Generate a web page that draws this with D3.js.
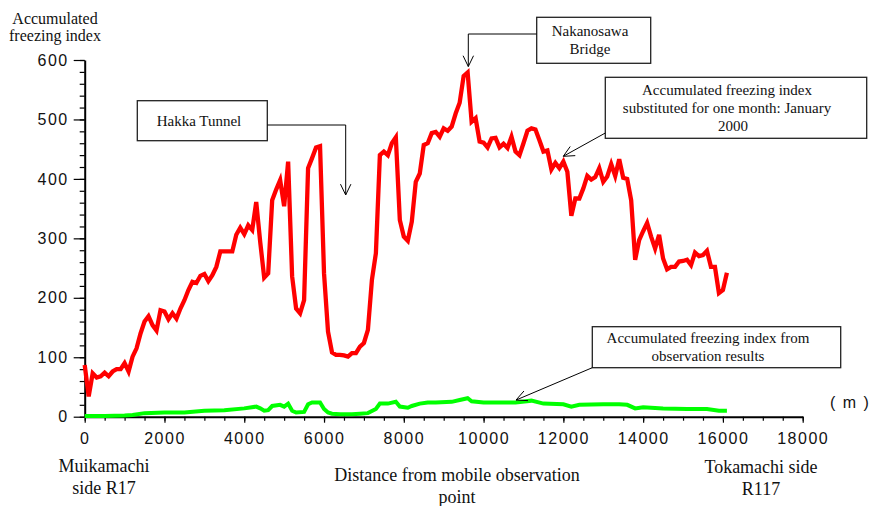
<!DOCTYPE html>
<html lang="en">
<head>
  <meta charset="UTF-8">
  <title>Accumulated freezing index</title>
  <script src="https://d3js.org/d3.v7.min.js"></script>
  <style>
    body { margin: 0; background: #fff; }
    .tick text { font-family: "Liberation Sans", Arial, sans-serif; font-size: 16px; letter-spacing: 1.5px; fill: #111; }
    .serif { font-family: "Liberation Serif", "Times New Roman", serif; fill: #111; }
  </style>
</head>
<body>
  <svg id="chart" width="877" height="506"></svg>

  <script>
    // substituted (January 2000) index, read every 100 m
    const distances = d3.range(0, 16101, 100);
    const substitutedIndex = [
      87, 34, 73, 66, 68, 74, 68, 76, 80, 80,
      90, 76, 101, 115, 140, 160, 169, 154, 145, 179,
      177, 164, 174, 165, 182, 196, 213, 227, 225, 237,
      240, 228, 238, 252, 278, 278, 278, 278, 306, 318,
      307, 322, 314, 361, 294, 234, 241, 364, 382, 398,
      354, 429, 236, 182, 174, 196, 418, 435, 453, 455,
      241, 143, 108, 104, 104, 103, 101, 107, 107, 118,
      124, 146, 230, 275, 440, 446, 440, 460, 470, 331,
      303, 296, 328, 395, 409, 457, 460, 477, 479, 471,
      485, 481, 488, 510, 528, 573, 579, 496, 502, 463,
      461, 453, 468, 469, 453, 459, 452, 471, 446, 440,
      460, 481, 485, 483, 465, 446, 448, 416, 427, 418,
      429, 412, 338, 367, 367, 384, 405, 399, 403, 418,
      395, 404, 425, 405, 433, 402, 400, 364, 264, 297,
      312, 326, 303, 283, 306, 266, 248, 252, 252, 261,
      262, 264, 255, 276, 270, 272, 279, 252, 252, 208,
      213, 242
    ];

    // index from observation results
    const obsDistances = [
      0, 500, 1000, 1200, 1500, 2000, 2500, 3000, 3500, 4000,
      4300, 4400, 4500, 4600, 4700, 4900, 5000, 5100, 5200, 5300,
      5500, 5600, 5700, 5900, 6000, 6100, 6200, 6400, 6700, 6900,
      7100, 7300, 7400, 7600, 7800, 7900, 8100, 8200, 8400, 8600,
      8800, 9200, 9400, 9600, 9700, 10000, 10400, 10800, 11200, 11500,
      12000, 12200, 12400, 13000, 13400, 13600, 13800, 14000, 14500, 15100,
      15600, 15900, 16100
    ];
    const observedIndex = [
      1, 1, 2, 3, 6, 7, 7, 10, 11, 14,
      17, 14, 10, 11, 18, 20, 17, 22, 10, 7,
      8, 21, 24, 24, 13, 7, 5, 4, 4, 5,
      6, 13, 22, 22, 25, 17, 15, 18, 22, 24,
      24, 25, 28, 31, 26, 24, 24, 24, 27, 22,
      21, 17, 20, 21, 21, 20, 14, 16, 14, 13,
      13, 10, 10
    ];

    const xTicks = [0, 2000, 4000, 6000, 8000, 10000, 12000, 14000, 16000, 18000];
    const yTicks = [0, 100, 200, 300, 400, 500, 600];

    const svg = d3.select("#chart");
    svg.append("rect").attr("width", 877).attr("height", 506).attr("fill", "#fff");

    const x = d3.scaleLinear().domain([0, 18000]).range([84.7, 802.7]);
    const y = d3.scaleLinear().domain([0, 600]).range([416.7, 60]);

    // minor ticks
    svg.append("g")
      .attr("transform", `translate(0,${y(0)})`)
      .call(d3.axisBottom(x).tickValues(d3.range(0, 18001, 500)).tickSize(4).tickSizeOuter(0).tickFormat(""))
      .call(g => g.select(".domain").remove());
    svg.append("g")
      .attr("transform", `translate(${x(0)},0)`)
      .call(d3.axisLeft(y).tickValues(d3.range(0, 601, 20)).tickSize(5).tickSizeOuter(0).tickFormat(""))
      .call(g => g.select(".domain").remove());

    // major axes
    const xAxis = svg.append("g")
      .attr("transform", `translate(0,${y(0)})`)
      .call(d3.axisBottom(x).tickValues(xTicks).tickFormat(d3.format("d"))
        .tickSize(6).tickSizeOuter(0).tickPadding(10));
    const yAxis = svg.append("g")
      .attr("transform", `translate(${x(0)},0)`)
      .call(d3.axisLeft(y).tickValues(yTicks).tickFormat(d3.format("d"))
        .tickSize(11).tickSizeOuter(0).tickPadding(5));
    [xAxis, yAxis].forEach(a => {
      a.select(".domain").attr("stroke", "#000").attr("stroke-width", 2);
      a.attr("font-family", null).attr("font-size", null);
    });
    svg.selectAll(".tick line").attr("stroke", "#000").attr("stroke-width", 1.2);

    // series
    const line = d3.line().x(d => x(d[0])).y(d => y(d[1]));

    svg.append("path")
      .datum(d3.zip(obsDistances, observedIndex))
      .attr("fill", "none")
      .attr("stroke", "#00ff00")
      .attr("stroke-width", 4)
      .attr("d", line);

    svg.append("path")
      .datum(d3.zip(distances, substitutedIndex))
      .attr("fill", "none")
      .attr("stroke", "#ff0000")
      .attr("stroke-width", 4.3)
      .attr("d", line);

    // texts
    function label(lines, cx, y0, size, step) {
      const t = svg.append("text").attr("class", "serif").attr("font-size", size).attr("text-anchor", "middle");
      lines.forEach((s, i) => {
        const c = Array.isArray(s) ? s[1] : cx;
        t.append("tspan").attr("x", c).attr("y", y0 + i * step).text(Array.isArray(s) ? s[0] : s);
      });
      return t;
    }

    label(["Accumulated", "freezing index"], 55, 24, 16, 17);
    label(["Muikamachi", "side R17"], 104, 472, 18, 22);
    label(["Distance from mobile observation", "point"], 457, 481, 18, 22);
    label(["Tokamachi side", "R117"], 761, 473, 18, 22);

    // unit
    svg.append("text")
      .attr("x", 830).attr("y", 408)
      .attr("font-family", "'Liberation Sans', Arial, sans-serif")
      .attr("font-size", 16)
      .attr("letter-spacing", "1.5px")
      .attr("fill", "#111")
      .text("( m )");

    // callouts
    function box(x0, y0, w, h) {
      svg.append("rect").attr("x", x0).attr("y", y0).attr("width", w).attr("height", h)
        .attr("fill", "#fff").attr("stroke", "#222").attr("stroke-width", 1.3);
    }

    function arrow(pts) {
      svg.append("path").attr("d", d3.line()(pts))
        .attr("fill", "none").attr("stroke", "#000").attr("stroke-width", 1);
      const [a, b] = pts.slice(-2);
      const ang = Math.atan2(b[1] - a[1], b[0] - a[0]) + Math.PI;
      const len = 12, spread = 0.45;
      const head = [
        [b[0] + len * Math.cos(ang - spread), b[1] + len * Math.sin(ang - spread)],
        b,
        [b[0] + len * Math.cos(ang + spread), b[1] + len * Math.sin(ang + spread)]
      ];
      svg.append("path").attr("d", d3.line()(head))
        .attr("fill", "none").attr("stroke", "#000").attr("stroke-width", 1);
    }

    // Hakka Tunnel
    box(137.3, 100.7, 130, 40);
    label(["Hakka Tunnel"], 199, 126, 15, 18);
    arrow([[267.3, 125], [x(6543), 125], [x(6543), y(373)]]);

    // Nakanosawa Bridge
    box(536.7, 17.3, 114, 46);
    label(["Nakanosawa", "Bridge"], 590, 36, 15, 18);
    arrow([[536.7, 34], [x(9617), 34], [x(9617), y(589)]]);

    // substituted index
    box(605.3, 77.3, 261.4, 61);
    label(["Accumulated freezing index", "substituted for one month: January", ["2000", 733]], 727, 95, 15, 18);
    arrow([[605.3, 133], [x(11998), y(438)]]);

    // observed index
    box(592.3, 326.7, 248.4, 41);
    label(["Accumulated freezing index from", "observation results"], 708, 343, 15, 18);
    arrow([[592.3, 367.7], [x(10813), y(28)]]);
  </script>
</body>
</html>
